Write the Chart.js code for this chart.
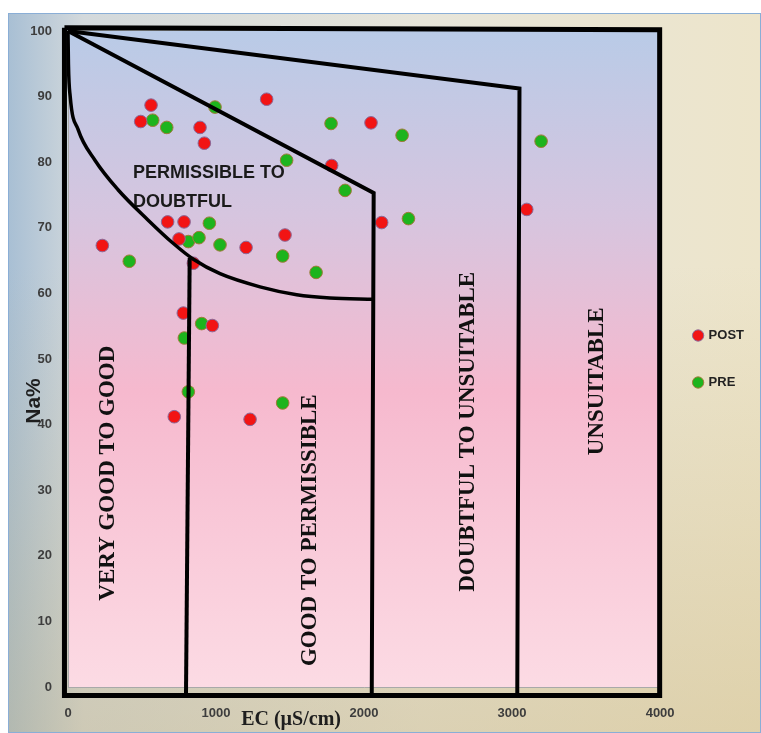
<!DOCTYPE html>
<html>
<head>
<meta charset="utf-8">
<script src="https://cdn.jsdelivr.net/npm/chart.js@4/dist/chart.umd.min.js"></script>
<style>
  html, body { margin: 0; padding: 0; background: #fff; }
  #frame {
    position: absolute; left: 8px; top: 13px; width: 753px; height: 720px;
    background:
      linear-gradient(to bottom, rgba(255,255,255,0) 35%, rgba(196,172,110,0.35) 100%),
      linear-gradient(to right, #a8bfd4 0%, #d3d9dc 10%, #e7e5da 55%, #ede5cb 100%);
    box-shadow: inset 0 0 0 1px #8aaed6;
  }
  #chart { position: absolute; left: 0; top: 0; }
</style>
</head>
<body>
<div id="frame"><canvas id="chart" width="753" height="720"></canvas></div>
<script>
// sample points (EC in uS/cm, Na in %)
const ecPost = [561, 491, 892, 921, 1342, 2047, 1781, 2119, 673, 784, 750, 1203, 1466, 232, 847, 779, 975, 718, 1230, 3099];
const naPost = [88.7, 86.2, 85.3, 82.9, 89.6, 86.0, 79.5, 70.8, 70.9, 70.9, 68.3, 67.0, 68.9, 67.3, 64.6, 57.0, 55.1, 41.2, 40.8, 72.8];
const ecPre = [572, 667, 993, 1477, 1777, 2257, 1872, 2300, 955, 813, 885, 1027, 1450, 414, 1676, 903, 786, 813, 1450, 3196];
const naPre = [86.4, 85.3, 88.4, 80.3, 85.9, 84.1, 75.7, 71.4, 70.7, 67.9, 68.5, 67.4, 65.7, 64.9, 63.2, 55.4, 53.2, 45.0, 43.3, 83.2];

// class boundaries of the diagram
const boxEc = [-24, 3997, 3997, -24, -24];
const boxNa = [100.5, 100.2, -1.3, -1.3, 100.5];
const lineAEc = [0, 3050, 3035];
const lineANa = [100, 91.25, -1.3];
const lineBEc = [0, 2065, 2052];
const lineBNa = [100, 75.3, -1.3];
const curveEc = [0, 3, 15, 68, 182, 338, 540, 712, 847, 1027, 1297, 1545, 1770, 2065];
const curveNa = [100, 95, 90, 85, 80.3, 75.8, 71.2, 67.6, 65.2, 63.0, 61.0, 59.8, 59.3, 59.1];
const lineDEc = [822, 797];
const lineDNa = [65.4, -1.3];

const xTicks = [0, 1000, 2000, 3000, 4000];
const yTicks = [0, 10, 20, 30, 40, 50, 60, 70, 80, 90, 100];

const zoneNames = ['VERY GOOD TO GOOD', 'GOOD TO PERMISSIBLE', 'DOUBTFUL TO UNSUITABLE', 'UNSUITABLE'];
const midZone = ['PERMISSIBLE TO', 'DOUBTFUL'];

function toPoints(xs, ys) {
    return xs.map((v, i) => ({x: v, y: ys[i]}));
}

function boundary(label, xs, ys, width, smooth) {
    return {
        type: 'line',
        label: label,
        data: toPoints(xs, ys),
        borderColor: '#000',
        borderWidth: width,
        pointRadius: 0,
        fill: false,
        tension: smooth ? 0.4 : 0,
        cubicInterpolationMode: smooth ? 'monotone' : 'default',
        clip: false,
        order: 0
    };
}

const zonePlugin = {
    id: 'zones',
    beforeDraw(chart) {
        const {ctx, chartArea: a} = chart;
        const g = ctx.createLinearGradient(0, a.top, 0, a.bottom);
        g.addColorStop(0, '#b9cbe7');
        g.addColorStop(0.28, '#d6c5df');
        g.addColorStop(0.55, '#f6b9ce');
        g.addColorStop(1, '#fcdbe4');
        ctx.save();
        ctx.fillStyle = g;
        ctx.fillRect(a.left, a.top, a.width, a.height);
        ctx.restore();
    },
    beforeDatasetsDraw(chart) {
        const {ctx, scales: {x, y}} = chart;
        const spots = [[270, 32.6], [1635, 23.9], [2703, 38.9], [3574, 46.6]];
        ctx.save();
        ctx.fillStyle = '#111';
        ctx.font = 'bold 23px "Liberation Serif", "DejaVu Serif", serif';
        ctx.textAlign = 'center';
        ctx.textBaseline = 'middle';
        zoneNames.forEach((t, i) => {
            ctx.save();
            ctx.translate(x.getPixelForValue(spots[i][0]), y.getPixelForValue(spots[i][1]));
            ctx.rotate(-Math.PI / 2);
            ctx.fillText(t, 0, 0);
            ctx.restore();
        });
        // zone between the curve and the slanted line
        ctx.font = 'bold 18px "Liberation Sans", Arial, sans-serif';
        ctx.fillStyle = '#1a1a1a';
        ctx.textAlign = 'left';
        ctx.fillText(midZone[0], x.getPixelForValue(439), y.getPixelForValue(78.3));
        ctx.fillText(midZone[1], x.getPixelForValue(439), y.getPixelForValue(74.0));
        ctx.restore();
    },
    afterDraw(chart) {
        const {ctx, chartArea: a, scales: {x, y}} = chart;
        ctx.save();
        ctx.fillStyle = '#1e1e1e';
        ctx.textAlign = 'center';
        ctx.textBaseline = 'middle';
        ctx.font = 'bold 21px "Liberation Sans", Arial, sans-serif';
        ctx.translate(a.left - 34, y.getPixelForValue(43.6));
        ctx.rotate(-Math.PI / 2);
        ctx.fillText('Na%', 0, 0);
        ctx.restore();
        ctx.save();
        ctx.fillStyle = '#1e1e1e';
        ctx.textAlign = 'center';
        ctx.textBaseline = 'middle';
        ctx.font = 'bold 20px "Liberation Serif", "DejaVu Serif", serif';
        ctx.fillText('EC (µS/cm)', x.getPixelForValue(1507), a.bottom + 33);
        ctx.restore();
    }
};

const ctx = document.getElementById('chart');
new Chart(ctx, {
    type: 'scatter',
    data: {
        datasets: [
            {
                label: 'POST',
                data: toPoints(ecPost, naPost),
                backgroundColor: '#f21414',
                borderColor: '#8a6a9a',
                borderWidth: 1,
                pointRadius: 6.3,
                order: 1
            },
            {
                label: 'PRE',
                data: toPoints(ecPre, naPre),
                backgroundColor: '#1db41d',
                borderColor: '#a07a3a',
                borderWidth: 1,
                pointRadius: 6.3,
                order: 2
            },
            boundary('box', boxEc, boxNa, 5, false),
            boundary('a', lineAEc, lineANa, 4, false),
            boundary('b', lineBEc, lineBNa, 4, false),
            boundary('c', curveEc, curveNa, 3.5, true),
            boundary('d', lineDEc, lineDNa, 4, false)
        ]
    },
    options: {
        responsive: false,
        animation: false,
        layout: { autoPadding: false, padding: { top: 18, right: 7, left: 0, bottom: 0 } },
        plugins: {
            tooltip: { enabled: false },
            legend: {
                position: 'right',
                fullSize: false,
                align: 'center',
                labels: {
                    usePointStyle: true,
                    pointStyle: 'circle',
                    boxWidth: 8,
                    boxHeight: 8,
                    padding: 34,
                    color: '#222',
                    font: { family: '"Liberation Sans", Arial, sans-serif', size: 13, weight: 'bold' },
                    filter: (item) => item.text === 'POST' || item.text === 'PRE'
                }
            }
        },
        scales: {
            x: {
                type: 'linear',
                min: 0,
                max: 4000,
                afterBuildTicks: (s) => { s.ticks = xTicks.map(v => ({value: v})); },
                afterFit: (s) => { s.height = 46; },
                grid: { display: false, drawTicks: false },
                border: { display: true, color: '#a9a9a9', width: 1 },
                ticks: {
                    padding: 19,
                    color: '#3d3d3d',
                    callback: (v) => String(v),
                    font: { family: '"Liberation Sans", Arial, sans-serif', size: 13, weight: 'bold' }
                }
            },
            y: {
                type: 'linear',
                min: 0,
                max: 100,
                afterBuildTicks: (s) => { s.ticks = yTicks.map(v => ({value: v})); },
                afterFit: (s) => { s.width = 60; s.paddingTop = 0; s.paddingBottom = 0; },
                grid: { display: false, drawTicks: false },
                border: { display: true, color: '#a9a9a9', width: 1 },
                ticks: {
                    padding: 16,
                    color: '#3d3d3d',
                    callback: (v) => String(v),
                    font: { family: '"Liberation Sans", Arial, sans-serif', size: 13, weight: 'bold' }
                }
            }
        }
    },
    plugins: [zonePlugin]
});
</script>
</body>
</html>
